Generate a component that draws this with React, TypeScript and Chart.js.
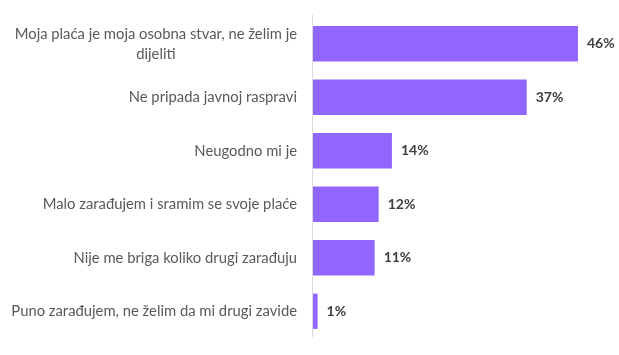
import React, { useEffect, useRef } from "react";
import { Chart, registerables } from "chart.js";

Chart.register(...registerables);

const categories: string[][] = [
  ["Moja plaća je moja osobna stvar, ne želim je", "dijeliti"],
  ["Ne pripada javnoj raspravi"],
  ["Neugodno mi je"],
  ["Malo zarađujem i sramim se svoje plaće"],
  ["Nije me briga koliko drugi zarađuju"],
  ["Puno zarađujem, ne želim da mi drugi zavide"],
];
const values: number[] = [46.0, 37.1, 13.7, 11.4, 10.7, 0.8];
const valueLabels: string[] = ["46%", "37%", "14%", "12%", "11%", "1%"];

const BAR_COLOR = "#9166FF";
const LABEL_FONT = "14.8px Lato";
const VALUE_FONT = "bold 14px Lato";

const labelsPlugin = {
  id: "customLabels",
  afterDraw(chart: any) {
    const ctx = chart.ctx;
    const area = chart.chartArea;
    const yScale = chart.scales.y;
    ctx.save();
    // axis line
    ctx.strokeStyle = "#D9D9D9";
    ctx.lineWidth = 1;
    ctx.beginPath();
    ctx.moveTo(area.left - 0.5, area.top - 2);
    ctx.lineTo(area.left - 0.5, area.bottom - 1);
    ctx.stroke();
    // category labels
    ctx.font = LABEL_FONT;
    ctx.fillStyle = "#595959";
    ctx.textBaseline = "middle";
    const rightX = area.left - 16;
    const lineH = 20;
    categories.forEach((lines, i) => {
      const cy = yScale.getPixelForValue(i);
      const widths = lines.map((l) => ctx.measureText(l).width);
      const maxW = Math.max(...widths);
      const centerX = rightX - maxW / 2;
      const startY = cy - ((lines.length - 1) * lineH) / 2;
      lines.forEach((l, j) => {
        ctx.textAlign = lines.length > 1 ? "center" : "right";
        const x = lines.length > 1 ? centerX : rightX;
        ctx.fillText(l, x, startY + j * lineH);
      });
    });
    // value labels
    const meta = chart.getDatasetMeta(0);
    ctx.font = VALUE_FONT;
    ctx.fillStyle = "#404040";
    ctx.textAlign = "left";
    meta.data.forEach((bar: any, i: number) => {
      ctx.fillText(valueLabels[i], bar.x + 9, bar.y);
    });
    ctx.restore();
  },
};

export default function App() {
  const ref = useRef<HTMLCanvasElement>(null);
  useEffect(() => {
    document.body.style.margin = "0";
    const chart = new Chart(ref.current as HTMLCanvasElement, {
      type: "bar",
      data: {
        labels: categories.map((c) => c.join(" ")),
        datasets: [
          {
            data: values,
            backgroundColor: BAR_COLOR,
            borderWidth: 0,
            barPercentage: 0.66,
            categoryPercentage: 1,
          },
        ],
      },
      options: {
        indexAxis: "y",
        animation: false,
        responsive: false,
        layout: { padding: { left: 313, right: 18, top: 17, bottom: 17 } },
        plugins: { legend: { display: false }, tooltip: { enabled: false } },
        scales: {
          x: { display: false, min: 0, max: 50 },
          y: { display: false },
        },
      },
      plugins: [labelsPlugin],
    });
    return () => chart.destroy();
  }, []);
  return (
    <canvas
      ref={ref}
      width={619}
      height={355}
      style={{ position: "fixed", left: 0, top: 0, width: 619, height: 355 }}
    />
  );
}
